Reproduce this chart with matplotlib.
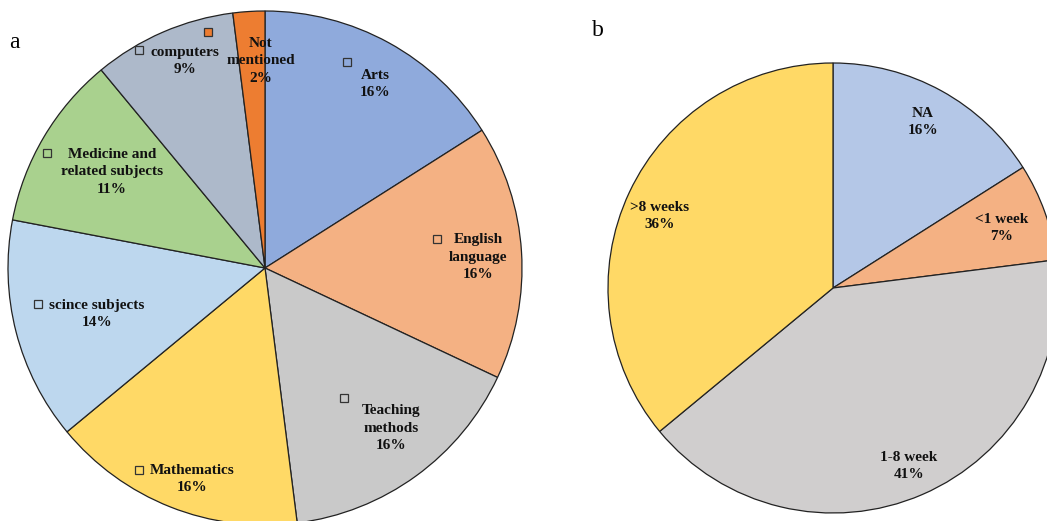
import matplotlib.pyplot as plt

# pie a
labels_a = ['Arts', 'English\nlanguage', 'Teaching\nmethods', 'Mathematics',
            'scince subjects', 'Medicine and\nrelated subjects', 'computers', 'Not\nmentioned']
values_a = [16, 16, 16, 16, 14, 11, 9, 2]
colors_a = ['#8FAADC', '#F4B183', '#C9C9C9', '#FFD966',
            '#BDD7EE', '#A9D18E', '#ADB9CA', '#ED7D31']

# pie b
labels_b = ['NA', '<1 week', '1-8 week', '>8 weeks']
values_b = [16, 7, 41, 36]
colors_b = ['#B4C7E7', '#F4B183', '#D0CECE', '#FFD966']

W, H = 1047, 521
fig = plt.figure(figsize=(W / 100, H / 100), dpi=100)
ax = fig.add_axes([0, 0, 1, 1])

def draw_pie(vals, cols, cx, cy, r):
    # y axis is inverted, so draw counter-clockwise to look clockwise
    wedges, _ = ax.pie(vals, colors=cols, startangle=-90, counterclock=True,
                       center=(cx, cy), radius=r, frame=True,
                       wedgeprops=dict(edgecolor='#222222', linewidth=0.9))
    return wedges

draw_pie(values_a, colors_a, 265, 268, 257)
draw_pie(values_b, colors_b, 833, 288, 225)
ax.set_xlim(0, W)
ax.set_ylim(H, 0)
ax.set_aspect('equal')
ax.axis('off')

font = dict(family=['Liberation Serif', 'DejaVu Serif'], fontweight='bold',
            fontsize=11, color='#111111', ha='center', va='center', linespacing=1.45)

# label positions in pixels
pos_a = [(375, 84), (478, 257), (391, 428), (192, 479), (97, 314), (112, 172), (185, 61), (261, 61)]
sq_a = [(347, 62), (437, 239), (344, 398), (139, 470), (38, 304), (47, 153), (139, 50), (208, 32)]
pos_b = [(923, 122), (1002, 228), (909, 466), (660, 216)]

for lab, v, (x, y) in zip(labels_a, values_a, pos_a):
    ax.text(x, y, f'{lab}\n{v}%', **font)
for i, (x, y) in enumerate(sq_a):
    fc = colors_a[-1] if i == len(sq_a) - 1 else 'none'
    ax.plot(x, y, marker='s', markersize=6, markerfacecolor=fc,
            markeredgecolor='#333333', markeredgewidth=0.9)

for lab, v, (x, y) in zip(labels_b, values_b, pos_b):
    ax.text(x, y, f'{lab}\n{v}%', **font)

ax.text(14, 42, 'a', fontsize=17, family=['Liberation Serif'], ha='center', va='center')
ax.text(598, 30, 'b', fontsize=17, family=['Liberation Serif'], ha='center', va='center')

fig.savefig('out.png', dpi=100)
